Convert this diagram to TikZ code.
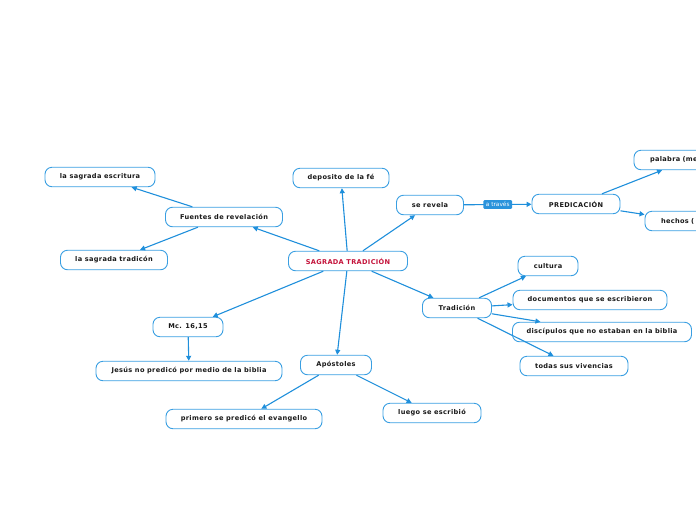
\documentclass[tikz,border=0pt]{standalone}
\usepackage{fontspec}
\setmainfont{DejaVu Sans}
\newfontfamily\boxfont[LetterSpace=5]{DejaVu Sans}
\usetikzlibrary{arrows.meta}
\definecolor{edgeblue}{HTML}{1F8FDB}
\definecolor{boxblue}{HTML}{3A9FE2}
\definecolor{labelblue}{HTML}{2A93DC}
\definecolor{titlered}{HTML}{C4123A}
\tikzset{
  box/.style={draw=boxblue, line width=0.9pt, rounded corners=7pt, fill=white,
    inner sep=0pt, minimum height=19.5pt, font=\boxfont\fontsize{6.6}{7.5}\selectfont\bfseries, text=black!90},
  conn/.style={draw=edgeblue, line width=1.1pt, -{Triangle[length=5pt,width=5pt]}},
  tag/.style={fill=labelblue, text=white, inner xsep=2.5pt, inner ysep=2pt, rounded corners=1pt,
    font=\fontsize{5.8}{6.5}\selectfont}
}
\begin{document}
\begin{tikzpicture}[x=1pt,y=-1pt]
\useasboundingbox (0,0) rectangle (696,520);
\clip (0,0) rectangle (696,520);
\node[box, minimum width=119pt, text=titlered] (st) at (348,261) {SAGRADA TRADICIÓN};
\node[box, minimum width=117pt] (fr) at (224,217) {Fuentes de revelación};
\node[box, minimum width=110pt] (se) at (100,177) {la sagrada escritura};
\node[box, minimum width=107pt] (stc) at (114,260) {la sagrada tradicón};
\node[box, minimum width=96pt] (dep) at (341,178) {deposito de la fé};
\node[box, minimum width=67pt] (rev) at (430,205) {se revela};
\node[box, minimum width=88pt] (pre) at (576,204) {PREDICACIÓN};
\node[box, minimum width=108pt, text width=76pt, inner xsep=16pt, align=left] (pal) at (688,160) {palabra (me};
\node[box, minimum width=84pt, text width=52pt, inner xsep=16pt, align=left] (hec) at (687,221) {hechos (};
\node[box, minimum width=69pt] (tra) at (457,308) {Tradición};
\node[box, minimum width=60pt] (cul) at (548,266) {cultura};
\node[box, minimum width=154pt] (doc) at (590,300) {documentos que se escribieron};
\node[box, minimum width=179pt] (dis) at (602,332) {discípulos que no estaban en la biblia};
\node[box, minimum width=108pt] (tod) at (574,366) {todas sus vivencias};
\node[box, minimum width=70pt] (mc) at (188,327) {Mc. 16,15};
\node[box, minimum width=186pt] (jes) at (189,371) {Jesús no predicó por medio de la biblia};
\node[box, minimum width=71pt] (apo) at (336,365) {Apóstoles};
\node[box, minimum width=156pt] (pri) at (244,419) {primero se predicó el evangello};
\node[box, minimum width=98pt] (lue) at (432,413) {luego se escribió};

\draw[conn] (st) -- (fr);
\draw[conn] (fr) -- (se);
\draw[conn] (fr) -- (stc);
\draw[conn] (st) -- (dep);
\draw[conn] (st) -- (rev);
\draw[conn] (rev) -- node[tag] {a través} (pre);
\draw[conn] (pre) -- (pal);
\draw[conn] (pre) -- (hec);
\draw[conn] (st) -- (tra);
\draw[conn] (tra) -- (cul);
\draw[conn] (tra) -- (doc);
\draw[conn] (tra) -- (dis);
\draw[conn] (tra) -- (tod);
\draw[conn] (st) -- (mc);
\draw[conn] (mc) -- (jes);
\draw[conn] (st) -- (apo);
\draw[conn] (apo) -- (pri);
\draw[conn] (apo) -- (lue);
\end{tikzpicture}
\end{document}
